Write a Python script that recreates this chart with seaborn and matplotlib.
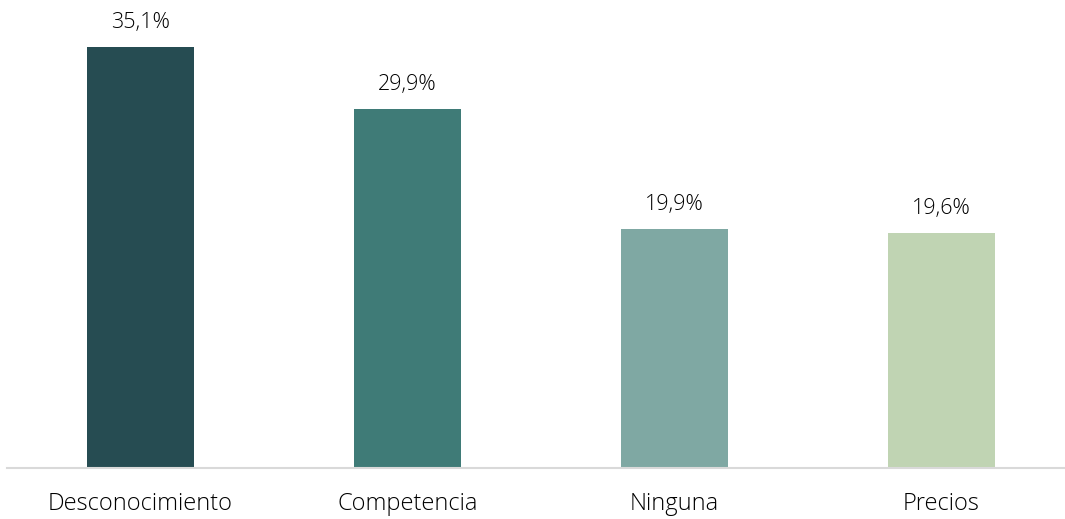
import matplotlib
matplotlib.use("Agg")
import matplotlib.pyplot as plt
import seaborn as sns
import pandas as pd

categories = ["Desconocimiento", "Competencia", "Ninguna", "Precios"]
values = [35.1, 29.9, 19.9, 19.6]
labels = ["35,1%", "29,9%", "19,9%", "19,6%"]
colors = ["#264c52", "#3f7b77", "#7fa8a3", "#c0d4b3"]

sns.set_theme(style="white")
plt.rcParams['font.family'] = ['Open Sans', 'DejaVu Sans']

df = pd.DataFrame({"cat": categories, "val": values})

W, H = 1065, 519
fig = plt.figure(figsize=(W / 100, H / 100), dpi=100)
ax = fig.add_axes([7 / W, 51 / H, 1068 / W, 468 / H])
sns.barplot(data=df, x="cat", y="val", hue="cat", palette=colors, width=0.4,
            legend=False, ax=ax, saturation=1, linewidth=0)
ax.set_xlim(-0.5, 3.5)
ax.set_ylim(0, 39)
for i, (v, t) in enumerate(zip(values, labels)):
    ax.annotate(t, (i, v), xytext=(0, 14), textcoords="offset pixels",
                ha="center", va="bottom", fontsize=15.5, color="#000000",
                fontweight="light")
ax.set_xlabel("")
ax.set_ylabel("")
ax.set_yticks([])
ax.tick_params(axis="x", length=0, pad=17, labelsize=17, labelcolor="#000000")
for lab in ax.get_xticklabels():
    lab.set_fontweight("light")
for s in ["top", "right", "left"]:
    ax.spines[s].set_visible(False)
ax.spines["bottom"].set_color("#d9d9d9")
ax.spines["bottom"].set_linewidth(1.5)
fig.savefig("out.png", dpi=100)
